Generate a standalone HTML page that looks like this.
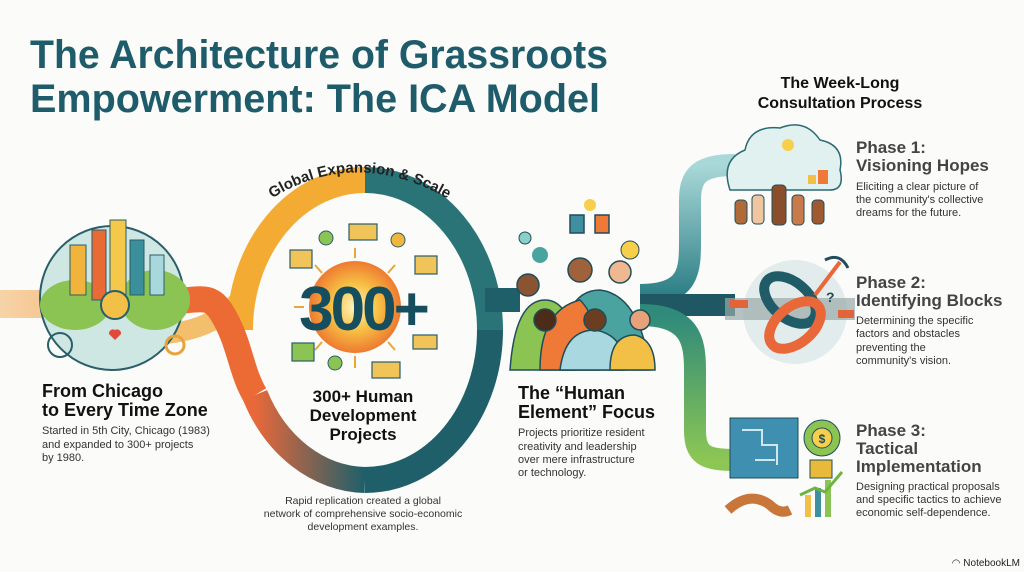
<!DOCTYPE html>
<html><head><meta charset="utf-8"><style>
html,body{margin:0;padding:0;background:#fbfbf9;}
svg{display:block}
text{font-family:"Liberation Sans",sans-serif;}
</style></head><body>
<svg width="1024" height="572" viewBox="0 0 1024 572" xmlns="http://www.w3.org/2000/svg">
<defs>
<radialGradient id="sun" cx="50%" cy="50%" r="50%"><stop offset="0" stop-color="#fff3c4"/><stop offset="0.5" stop-color="#f7c245"/><stop offset="1" stop-color="#ee7a30"/></radialGradient>
<linearGradient id="lb" x1="0" x2="1"><stop offset="0" stop-color="#f6c995"/><stop offset="1" stop-color="#f3a24a"/></linearGradient>
<linearGradient id="p1" x1="0" y1="1" x2="0" y2="0"><stop offset="0" stop-color="#2d7f86"/><stop offset="1" stop-color="#a9d8d8"/></linearGradient>
<linearGradient id="p3" x1="0" y1="0" x2="0" y2="1"><stop offset="0" stop-color="#2f8a7a"/><stop offset="1" stop-color="#8cc654"/></linearGradient>
<linearGradient id="bot" x1="0" x2="1"><stop offset="0" stop-color="#e8683a"/><stop offset="1" stop-color="#1e5f6a"/></linearGradient>
<path id="arcT" d="M262,205 Q355,140 458,205"/>
</defs>

<!-- Title -->
<text x="30" y="68" font-size="40" font-weight="bold" fill="#1f5c6b" textLength="578" lengthAdjust="spacingAndGlyphs">The Architecture of Grassroots</text>
<text x="30" y="112" font-size="40" font-weight="bold" fill="#1f5c6b" textLength="570" lengthAdjust="spacingAndGlyphs">Empowerment: The ICA Model</text>

<!-- left ribbon -->
<rect x="0" y="290" width="120" height="28" fill="url(#lb)" opacity="0.8"/>
<path d="M120,336 C180,336 210,330 240,300" fill="none" stroke="#f3b04a" stroke-width="20" opacity="0.8"/>
<!-- ring -->
<path d="M240,330 A125,150 0 0 1 365,180" fill="none" stroke="#f3ab33" stroke-width="26"/>
<path d="M365,180 A125,150 0 0 1 490,330" fill="none" stroke="#2a7478" stroke-width="26"/>
<path d="M490,330 A125,150 0 0 1 365,480" fill="none" stroke="#1e5f6a" stroke-width="26"/>
<path d="M365,480 A125,150 0 0 1 255,395" fill="none" stroke="url(#bot)" stroke-width="26"/>
<path d="M120,304 C200,304 205,290 220,310 C240,340 240,370 255,395" fill="none" stroke="#ec6a33" stroke-width="26"/>
<!-- connect ring to people -->
<path d="M485,300 L520,300" stroke="#1e5f6a" stroke-width="24"/>
<!-- branches -->
<path d="M640,295 C690,295 690,270 690,240 L690,200 C690,175 700,165 735,165" fill="none" stroke="url(#p1)" stroke-width="22"/>
<path d="M640,305 L735,305" stroke="#1f5763" stroke-width="22"/>
<path d="M640,315 C690,315 695,340 695,370 L695,430 C695,455 705,460 735,460" fill="none" stroke="url(#p3)" stroke-width="22"/>

<!-- city illustration -->
<circle cx="112" cy="298" r="72" fill="#cfe7e3" stroke="#2a5e6a" stroke-width="2"/>
<ellipse cx="75" cy="305" rx="35" ry="25" fill="#8cc454"/>
<ellipse cx="155" cy="300" rx="35" ry="30" fill="#8cc454"/>
<rect x="70" y="245" width="16" height="50" fill="#f0b33b" stroke="#2a5e6a"/>
<rect x="92" y="230" width="14" height="70" fill="#e86b35" stroke="#2a5e6a"/>
<rect x="110" y="220" width="16" height="80" fill="#f4c84a" stroke="#2a5e6a"/>
<rect x="130" y="240" width="14" height="55" fill="#3a8f9a" stroke="#2a5e6a"/>
<rect x="150" y="255" width="14" height="40" fill="#a9d8dc" stroke="#2a5e6a"/>
<circle cx="115" cy="305" r="14" fill="#f3c047" stroke="#2a5e6a" stroke-width="2"/>
<circle cx="60" cy="345" r="12" fill="none" stroke="#2a5e6a" stroke-width="2"/>
<circle cx="175" cy="345" r="9" fill="none" stroke="#e8a33a" stroke-width="3"/>
<path d="M115,340 l-6,-6 a4,4 0 0 1 6,-4 a4,4 0 0 1 6,4z" fill="#e3493a"/>

<!-- 300+ sun -->
<circle cx="355" cy="307" r="46" fill="url(#sun)"/>
<g stroke="#e9a63a" stroke-width="2">
<line x1="355" y1="248" x2="355" y2="258"/><line x1="355" y1="356" x2="355" y2="368"/><line x1="294" y1="307" x2="304" y2="307"/><line x1="410" y1="307" x2="420" y2="307"/><line x1="315" y1="265" x2="322" y2="273"/><line x1="395" y1="265" x2="388" y2="273"/><line x1="315" y1="350" x2="322" y2="342"/><line x1="395" y1="350" x2="388" y2="342"/></g>
<text x="363" y="330" font-size="62" font-weight="bold" fill="#174e5e" text-anchor="middle" letter-spacing="-3">300+</text>
<g fill="#f1c45a" stroke="#2a5e6a" stroke-width="1.2">
<rect x="349" y="224" width="28" height="16"/><rect x="290" y="250" width="22" height="18"/><rect x="415" y="256" width="22" height="18"/><rect x="413" y="335" width="24" height="14"/><rect x="372" y="362" width="28" height="16"/><rect x="292" y="343" width="22" height="18" fill="#8cc454"/></g>
<circle cx="326" cy="238" r="7" fill="#8cc454" stroke="#2a5e6a"/><circle cx="335" cy="363" r="7" fill="#8cc454" stroke="#2a5e6a"/><circle cx="398" cy="240" r="7" fill="#f3b63d" stroke="#2a5e6a"/>
<text font-size="15" font-weight="bold" fill="#222"><textPath href="#arcT" startOffset="50%" text-anchor="middle">Global Expansion &amp; Scale</textPath></text>

<!-- people -->
<g stroke="#1f4d59" stroke-width="1.5">
<path d="M510,370 Q515,300 545,300 Q575,300 575,370Z" fill="#8cc454"/>
<path d="M560,370 Q560,290 600,290 Q640,295 650,370Z" fill="#4ba3a0"/>
<path d="M540,370 Q540,310 580,300 Q600,320 600,370Z" fill="#ef7a38"/>
<path d="M560,370 Q565,330 595,330 Q625,335 625,370Z" fill="#a9d8e0"/>
<path d="M610,370 Q610,335 635,335 Q655,340 655,370Z" fill="#f3c047"/>
<circle cx="528" cy="285" r="11" fill="#8a5432"/><circle cx="580" cy="270" r="12" fill="#a0623a"/><circle cx="620" cy="272" r="11" fill="#f0b890"/><circle cx="595" cy="320" r="11" fill="#6b3e22"/><circle cx="640" cy="320" r="10" fill="#e8a27a"/><circle cx="545" cy="320" r="11" fill="#4a2c18"/>
<rect x="570" y="215" width="14" height="18" fill="#3f8fa0"/><rect x="595" y="215" width="14" height="18" fill="#ef7a38"/>
</g>
<circle cx="590" cy="205" r="6" fill="#f7cf4a"/><circle cx="630" cy="250" r="9" fill="#f7cf4a" stroke="#1f4d59"/>
<circle cx="525" cy="238" r="6" fill="#8ccfc8" stroke="#1f4d59"/><circle cx="540" cy="255" r="8" fill="#4ba3a0"/>

<!-- phase 1 cloud -->
<path d="M730,190 Q720,160 745,150 Q750,125 780,128 Q805,118 820,140 Q845,145 840,170 Q845,190 830,190Z" fill="#e0f1f0" stroke="#2a6a74" stroke-width="1.5"/>
<circle cx="788" cy="145" r="6" fill="#f7cf4a"/>
<rect x="818" y="170" width="10" height="14" fill="#ef7a38"/><rect x="808" y="175" width="8" height="9" fill="#f3c047"/>
<g stroke="#1f4d59" stroke-width="1">
<rect x="735" y="200" width="12" height="24" rx="4" fill="#b06b3a"/><rect x="752" y="195" width="12" height="29" rx="4" fill="#f0c6a0"/><rect x="772" y="185" width="14" height="40" rx="4" fill="#8a4e2a"/><rect x="792" y="195" width="12" height="30" rx="4" fill="#c87a4a"/><rect x="812" y="200" width="12" height="24" rx="4" fill="#a05a32"/></g>

<!-- phase 2 -->
<circle cx="795" cy="312" r="52" fill="#e3ecec"/>
<rect x="725" y="298" width="130" height="22" fill="#9aa" opacity="0.7"/>
<rect x="730" y="300" width="18" height="8" fill="#e4643a"/><rect x="838" y="310" width="16" height="8" fill="#e4643a"/>
<ellipse cx="790" cy="300" rx="30" ry="18" fill="none" stroke="#1f5c68" stroke-width="10" transform="rotate(40 790 300)"/>
<ellipse cx="795" cy="325" rx="30" ry="18" fill="none" stroke="#e8683a" stroke-width="10" transform="rotate(-40 795 325)"/>
<line x1="815" y1="295" x2="840" y2="262" stroke="#e8683a" stroke-width="4"/><path d="M825,260 Q840,252 848,268" fill="none" stroke="#1f4d59" stroke-width="3"/>
<text x="826" y="302" font-size="14" font-weight="bold" fill="#1f4d59">?</text>

<!-- phase 3 -->
<rect x="730" y="418" width="68" height="60" fill="#3f8fb0" stroke="#1f4d59"/>
<path d="M742,430 h20 v15 h15 v20 M755,460 h20" stroke="#cfe8f0" stroke-width="2" fill="none"/>
<circle cx="822" cy="438" r="18" fill="#8cc454" stroke="#1f4d59"/><circle cx="822" cy="438" r="10" fill="#f7cf4a" stroke="#1f4d59"/>
<text x="822" y="443" font-size="12" font-weight="bold" fill="#1f4d59" text-anchor="middle">$</text>
<rect x="810" y="460" width="22" height="18" fill="#e9b93a" stroke="#1f4d59"/>
<path d="M728,510 Q750,490 770,505 Q780,515 790,510" stroke="#c8763a" stroke-width="10" fill="none"/>
<rect x="805" y="495" width="6" height="22" fill="#f3c047"/><rect x="815" y="488" width="6" height="29" fill="#3f8fa0"/><rect x="825" y="480" width="6" height="37" fill="#8cc454"/>
<path d="M800,495 L815,488 L825,492 L842,472" stroke="#6cb540" stroke-width="3" fill="none"/>

<!-- texts -->
<text x="840" y="88" font-size="16" font-weight="bold" fill="#111" text-anchor="middle">The Week-Long</text>
<text x="840" y="108" font-size="16" font-weight="bold" fill="#111" text-anchor="middle">Consultation Process</text>

<g font-size="17" font-weight="bold" fill="#444">
<text x="856" y="153">Phase 1:</text><text x="856" y="171">Visioning Hopes</text>
<text x="856" y="288">Phase 2:</text><text x="856" y="306">Identifying Blocks</text>
<text x="856" y="436">Phase 3:</text><text x="856" y="454">Tactical</text><text x="856" y="472">Implementation</text>
</g>
<g font-size="11" fill="#333">
<text x="856" y="190">Eliciting a clear picture of</text><text x="856" y="203">the community's collective</text><text x="856" y="216">dreams for the future.</text>
<text x="856" y="324">Determining the specific</text><text x="856" y="337">factors and obstacles</text><text x="856" y="351">preventing the</text><text x="856" y="364">community's vision.</text>
<text x="856" y="490">Designing practical proposals</text><text x="856" y="503">and specific tactics to achieve</text><text x="856" y="516">economic self-dependence.</text>
</g>

<g font-size="18" font-weight="bold" fill="#111">
<text x="42" y="397">From Chicago</text><text x="42" y="416">to Every Time Zone</text>
<text x="518" y="399">The “Human</text><text x="518" y="418">Element” Focus</text>
</g>
<g font-size="17" font-weight="bold" fill="#111" text-anchor="middle">
<text x="363" y="402">300+ Human</text><text x="363" y="421">Development</text><text x="363" y="440">Projects</text>
</g>
<g font-size="11" fill="#333">
<text x="42" y="434">Started in 5th City, Chicago (1983)</text><text x="42" y="448">and expanded to 300+ projects</text><text x="42" y="461">by 1980.</text>
<text x="518" y="436">Projects prioritize resident</text><text x="518" y="450">creativity and leadership</text><text x="518" y="463">over mere infrastructure</text><text x="518" y="476">or technology.</text>
</g>
<g font-size="10.5" fill="#333" text-anchor="middle">
<text x="363" y="504">Rapid replication created a global</text><text x="363" y="517">network of comprehensive socio-economic</text><text x="363" y="530">development examples.</text>
</g>
<text x="1020" y="566" font-size="10" fill="#222" text-anchor="end">◠ NotebookLM</text>
</svg>
</body></html>
